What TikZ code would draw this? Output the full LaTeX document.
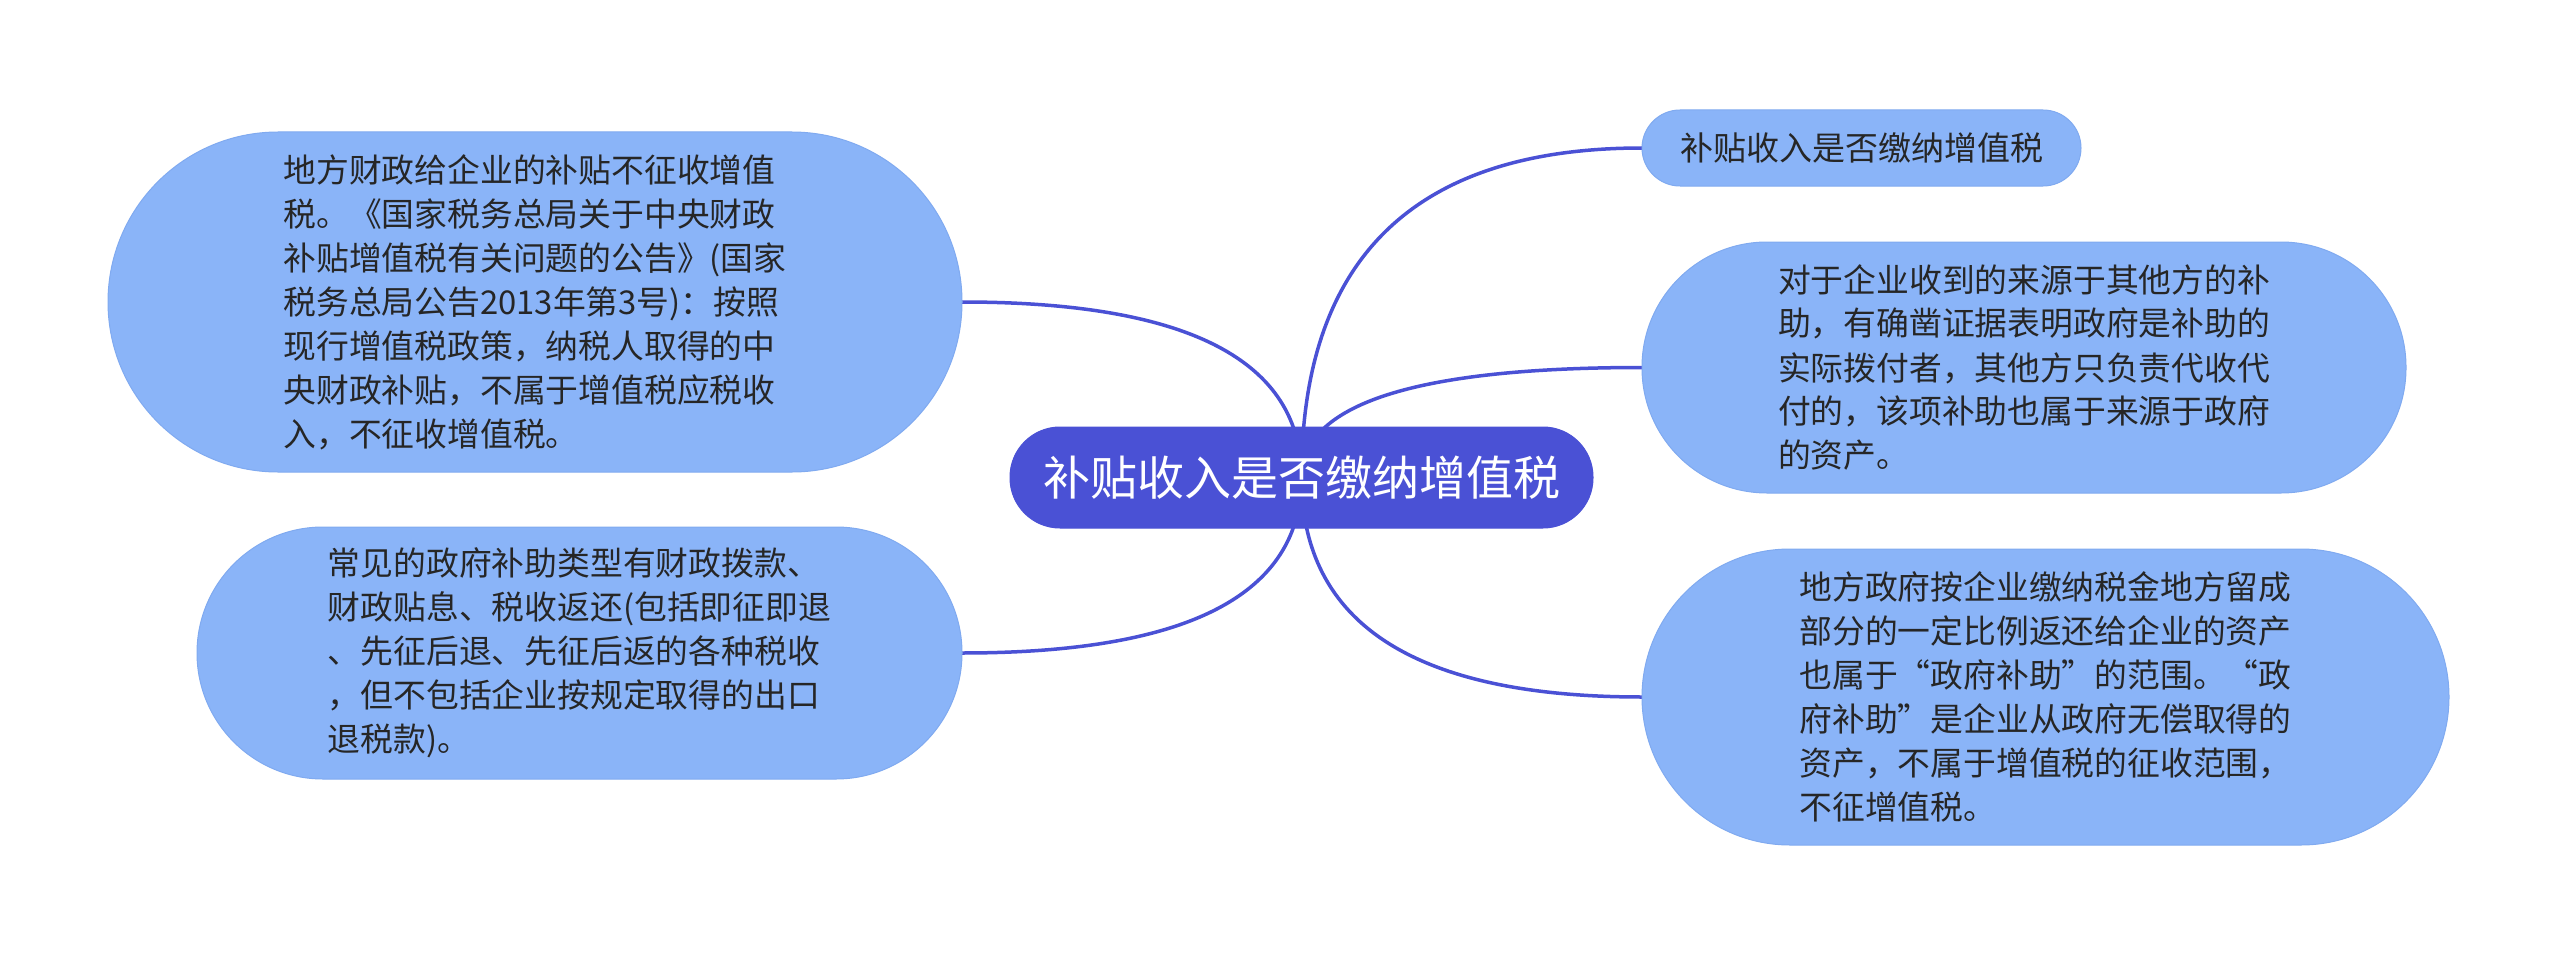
\documentclass[tikz,border=0pt]{standalone}
\usepackage{fontspec}
\newfontfamily\cjk{Noto Sans CJK SC}
\usetikzlibrary{calc,backgrounds}
\definecolor{hub}{HTML}{4A51D5}
\definecolor{leaf}{HTML}{8AB4F8}
\definecolor{leafedge}{HTML}{80AAF0}
\definecolor{ink}{HTML}{262626}
\tikzset{
  leafbox/.style={rectangle, fill=leaf, draw=leafedge, line width=1pt,
    inner sep=0pt, outer sep=0pt, text=ink, align=left,
    font=\cjk\fontsize{32.8}{44}\selectfont},
  hubbox/.style={rectangle, fill=hub, draw=hub, line width=1pt,
    inner sep=0pt, outer sep=0pt, text=white,
    font=\cjk\fontsize{47}{56}\selectfont},
  link/.style={draw=hub, line width=3.5pt}
}
% #1 = hub, #2 = target anchor (e.g. rt.west)
\newcommand\branch[2]{%
  \draw[link] (#1.center) .. controls ($(#1.center)!2/3!(#1.center |- #2)$)
    and ($(#2)!2/3!(#1.center |- #2)$) .. (#2);}
\begin{document}
\begin{tikzpicture}[x=1pt,y=-1pt]
\useasboundingbox (0,0) rectangle (2560,955);

\node[hubbox, minimum width=583pt, minimum height=101pt, rounded corners=50pt] (c) at (1301.5,477.5) {补贴收入是否缴纳增值税};

\node[leafbox, minimum width=439pt, minimum height=76pt, rounded corners=38pt,
  font=\cjk\fontsize{33}{44}\selectfont] (rt) at (1861.5,148) {补贴收入是否缴纳增值税};

\node[leafbox, minimum width=764pt, minimum height=251pt, rounded corners=125pt] (rm) at (2024,367.5)
 {对于企业收到的来源于其他方的补\\助，有确凿证据表明政府是补助的\\实际拨付者，其他方只负责代收代\\付的，该项补助也属于来源于政府\\的资产。};

\node[leafbox, minimum width=807pt, minimum height=296pt, rounded corners=148pt] (rb) at (2045.5,697)
 {地方政府按企业缴纳税金地方留成\\部分的一定比例返还给企业的资产\\也属于“政府补助”的范围。“政\\府补助”是企业从政府无偿取得的\\资产，不属于增值税的征收范围，\\不征增值税。};

\node[leafbox, minimum width=854pt, minimum height=340pt, rounded corners=170pt] (lt) at (535,302)
 {地方财政给企业的补贴不征收增值\\税。《国家税务总局关于中央财政\\补贴增值税有关问题的公告》(国家\\税务总局公告2013年第3号)：按照\\现行增值税政策，纳税人取得的中\\央财政补贴，不属于增值税应税收\\入，不征收增值税。};

\node[leafbox, minimum width=765pt, minimum height=252pt, rounded corners=126pt] (lb) at (579.5,653)
 {常见的政府补助类型有财政拨款、\\财政贴息、税收返还(包括即征即退\\、先征后退、先征后返的各种税收\\，但不包括企业按规定取得的出口\\退税款)。};

\begin{scope}[on background layer]
\fill[white] (0,0) rectangle (2560,955);
\branch{c}{rt.west}
\branch{c}{rm.west}
\branch{c}{rb.west}
\branch{c}{lt.east}
\branch{c}{lb.east}
\end{scope}
\end{tikzpicture}
\end{document}
